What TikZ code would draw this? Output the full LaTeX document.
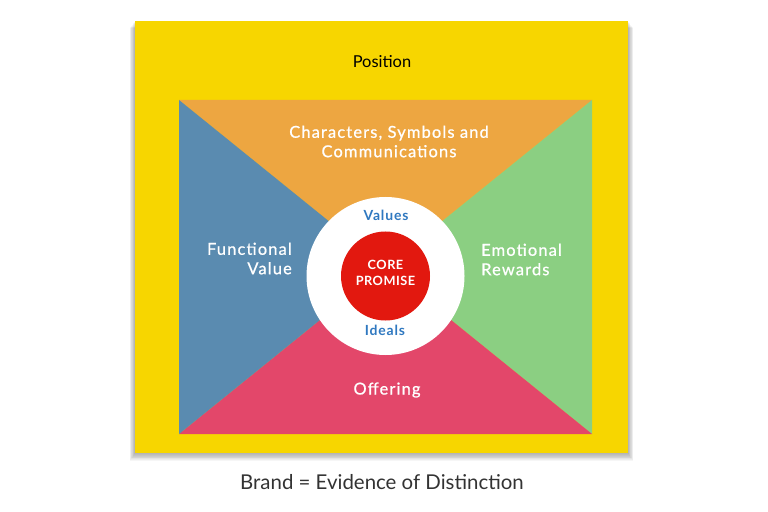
\documentclass[tikz,border=0pt]{standalone}
\usepackage{fontspec}
\setmainfont{Lato}
\newfontfamily\lblfont[LetterSpace=7,FakeBold=0.8]{Lato}
\newfontfamily\smlfont[LetterSpace=6]{Lato}
\newfontfamily\corefont[LetterSpace=4]{Lato}
\definecolor{yel}{HTML}{F7D600}
\definecolor{ora}{HTML}{EDA641}
\definecolor{blu}{HTML}{5A8BB0}
\definecolor{gre}{HTML}{8BCF82}
\definecolor{pinkc}{HTML}{E3476A}
\definecolor{redc}{HTML}{E2180F}
\definecolor{txtblue}{HTML}{2F78C0}
\definecolor{darkt}{HTML}{333333}
\tikzset{
  whitelbl/.style={text=white, font=\lblfont\fontsize{16.5}{19.5}\selectfont, inner sep=0pt},
  bluelbl/.style={text=txtblue, font=\smlfont\bfseries\fontsize{14}{16}\selectfont, inner sep=0pt},
  corelbl/.style={text=white, font=\corefont\bfseries\fontsize{12.8}{15.5}\selectfont, inner sep=0pt, align=center},
  shadowlayer/.style={fill=black, fill opacity=0.035},
}
\begin{document}
\begin{tikzpicture}[x=1bp,y=-1bp]
\useasboundingbox (0,0) rectangle (768,512);
\fill[white] (0,0) rectangle (768,512);
% soft shadow
\foreach \i in {1,...,9}{
  \fill[shadowlayer] (135-\i*0.6,21+\i*0.8) rectangle (628+\i*0.6,453+\i*0.9);
}
% outer yellow box
\fill[yel] (135,21) rectangle (628,453);
% inner quadrants
\coordinate (tl) at (179,100);
\coordinate (tr) at (592,100);
\coordinate (br) at (592,434);
\coordinate (bl) at (179,434);
\coordinate (c) at (385.5,267);
\fill[ora] (tl) -- (tr) -- (c) -- cycle;
\fill[gre] (tr) -- (br) -- (c) -- cycle;
\fill[pinkc] (br) -- (bl) -- (c) -- cycle;
\fill[blu] (bl) -- (tl) -- (c) -- cycle;
% circles
\coordinate (cc) at (385.5,276);
\fill[white] (cc) circle (79);
\fill[redc] (cc) circle (44.5);
% labels
\node[text=black, font=\fontsize{16.5}{19.5}\selectfont, inner sep=0pt] (pos) at (382,62) {Position};
\node[whitelbl, align=center] (chars) at (389,141.5) {Characters, Symbols and\\Communications};
\node[whitelbl, align=right, anchor=east] (func) at (292,258.5) {Functional\\Value};
\node[whitelbl, align=left, anchor=west] (emo) at (481,259.5) {Emotional\\Rewards};
\node[whitelbl] (off) at (387,390) {Offering};
\node[bluelbl] (val) at (386,215) {Values};
\node[bluelbl] (ide) at (385,330) {Ideals};
\node[corelbl] (core) at (385.5,273) {CORE\\PROMISE};
\node[text=darkt, font=\fontsize{20.5}{24}\selectfont, inner sep=0pt] (brand) at (382,482) {Brand = Evidence of Distinction};
\end{tikzpicture}
\end{document}
